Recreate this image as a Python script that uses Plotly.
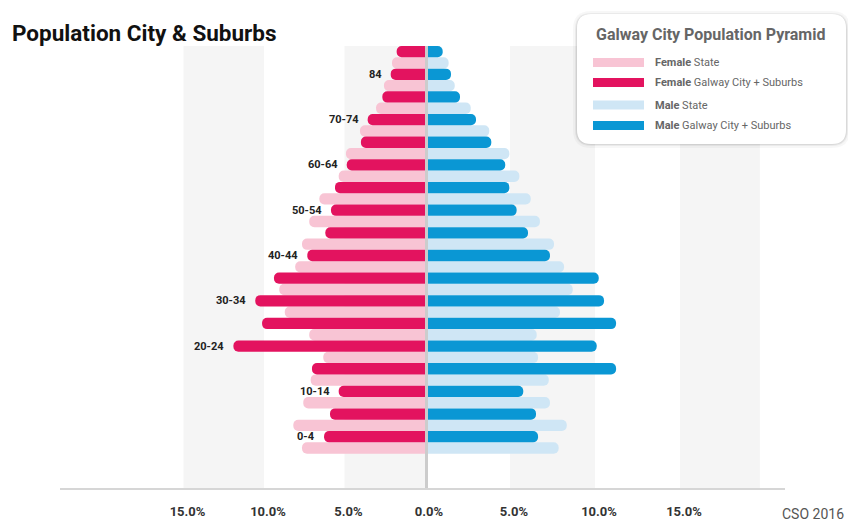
import plotly.graph_objects as go

# ---------------- data (percent of population) ----------------
age_groups = ["0-4", "5-9", "10-14", "15-19", "20-24", "25-29", "30-34", "35-39",
              "40-44", "45-49", "50-54", "55-59", "60-64", "65-69", "70-74",
              "75-79", "80-84", "85+"]
age_labels_shown = ["0-4", "", "10-14", "", "20-24", "", "30-34", "", "40-44", "",
                    "50-54", "", "60-64", "", "70-74", "", "84", ""]

female_galway = [6.27, 5.90, 5.36, 7.02, 11.90, 10.12, 10.54, 9.38, 7.31, 6.19,
                 5.84, 5.59, 4.86, 3.98, 3.56, 2.65, 2.13, 1.76]
female_state = [7.64, 8.18, 7.56, 7.10, 6.32, 7.19, 8.71, 9.05, 8.06, 7.64,
                7.19, 6.56, 5.36, 4.91, 4.04, 3.04, 2.55, 2.05]
male_galway = [6.65, 6.53, 5.78, 11.24, 10.10, 11.24, 10.53, 10.22, 7.35, 6.06,
               5.39, 4.96, 4.72, 3.90, 3.00, 2.06, 1.53, 1.04]
male_state = [7.86, 8.34, 7.35, 7.28, 6.65, 6.57, 7.94, 8.69, 8.18, 7.59,
              6.76, 6.22, 5.55, 4.96, 3.78, 2.69, 1.75, 1.39]

left_ticks = [0, 5, 10, 15]
left_ticktext = ["0.0%", "5.0%", "10.0%", "15.0%"]
right_ticks = [5, 10, 15]
right_ticktext = ["5.0%", "10.0%", "15.0%"]

legend_items = [("Female", "State"), ("Female", "Galway City + Suburbs"),
                ("Male", "State"), ("Male", "Galway City + Suburbs")]

# ---------------- styling ----------------
W, H = 848, 523
C_F_DARK = "#e3135f"
C_F_LIGHT = "#f8c4d4"
C_M_DARK = "#0a97d4"
C_M_LIGHT = "#cfe6f5"
C_BAND = "#f5f5f5"
FONT = "Roboto"

def px_x(x):
    return x / W

def px_y(y):
    return 1 - y / H

pos = list(range(len(age_groups)))

fig = go.Figure()

def add_bars(values, color, axis, dark):
    fig.add_trace(go.Bar(
        x=values, y=pos, orientation="h",
        marker=dict(color=color, cornerradius="50%", line=dict(width=0)),
        width=0.5, offset=0 if dark else -0.5,
        xaxis=axis, yaxis="y", showlegend=False, hoverinfo="skip"))

add_bars(female_state, C_F_LIGHT, "x", False)
add_bars(female_galway, C_F_DARK, "x", True)
add_bars(male_state, C_M_LIGHT, "x2", False)
add_bars(male_galway, C_M_DARK, "x2", True)

Y_MIN, Y_MAX = -2.015, 17.5
X_ZERO_PX, X_LEFT_PX, X_RIGHT_PX = 425, 60, 785
L_RANGE = (X_ZERO_PX - X_LEFT_PX) / 16.1
R_RANGE = (X_RIGHT_PX - X_ZERO_PX) / 17.0

shapes = []
# background bands
for (x0, x1, ref) in [(0, 5, "x"), (10, 15, "x"), (5, 10, "x2"), (15, 19.7, "x2")]:
    shapes.append(dict(type="rect", xref=ref, yref="y", x0=x0, x1=x1, y0=Y_MIN, y1=Y_MAX,
                       fillcolor=C_BAND, line=dict(width=0), layer="below"))
# centre line
shapes.append(dict(type="line", xref="x2", yref="y", x0=0, x1=0, y0=Y_MIN, y1=Y_MAX,
                   line=dict(color="#cccccc", width=6), layer="above"))

# legend box (rounded, with soft shadow)
def rounded_path(x0, y0, x1, y1, r):
    pts = [
        f"M {px_x(x0 + r)},{px_y(y0)}",
        f"L {px_x(x1 - r)},{px_y(y0)}",
        f"Q {px_x(x1)},{px_y(y0)} {px_x(x1)},{px_y(y0 + r)}",
        f"L {px_x(x1)},{px_y(y1 - r)}",
        f"Q {px_x(x1)},{px_y(y1)} {px_x(x1 - r)},{px_y(y1)}",
        f"L {px_x(x0 + r)},{px_y(y1)}",
        f"Q {px_x(x0)},{px_y(y1)} {px_x(x0)},{px_y(y1 - r)}",
        f"L {px_x(x0)},{px_y(y0 + r)}",
        f"Q {px_x(x0)},{px_y(y0)} {px_x(x0 + r)},{px_y(y0)} Z",
    ]
    return " ".join(pts)

for k, a in [(4, 0.03), (2, 0.05), (1, 0.07)]:
    shapes.append(dict(type="path", xref="paper", yref="paper",
                       path=rounded_path(577 - k, 14 - k + 1, 846 + k, 144 + k, 14 + k),
                       fillcolor=f"rgba(0,0,0,{a})", line=dict(width=0), layer="above"))
shapes.append(dict(type="path", xref="paper", yref="paper",
                   path=rounded_path(577, 14, 846, 144, 14),
                   fillcolor="white", line=dict(width=0), layer="above"))

legend_colors = [C_F_LIGHT, C_F_DARK, C_M_LIGHT, C_M_DARK]
legend_rows = [62.5, 82.5, 105, 125.5]
for col, yc in zip(legend_colors, legend_rows):
    shapes.append(dict(type="rect", xref="paper", yref="paper",
                       x0=px_x(593), x1=px_x(644), y0=px_y(yc + 4.5), y1=px_y(yc - 4.5),
                       fillcolor=col, line=dict(width=0), layer="above"))

annotations = []
# age labels next to the dark female bars
for i, lab in enumerate(age_labels_shown):
    if lab:
        annotations.append(dict(x=female_galway[i], y=pos[i] + 0.25, xref="x", yref="y",
                                text=f"<b>{lab}</b>", showarrow=False, xanchor="right",
                                yanchor="middle", xshift=-7,
                                font=dict(family=FONT, size=11, color="#222222")))
# title
annotations.append(dict(x=px_x(10), y=px_y(33), xref="paper", yref="paper",
                        text="<b>Population City &amp; Suburbs</b>", showarrow=False,
                        xanchor="left", yanchor="middle",
                        font=dict(family=FONT, size=22.5, color="#111111")))
# source
annotations.append(dict(x=px_x(846), y=px_y(514), xref="paper", yref="paper",
                        text="CSO 2016", showarrow=False, xanchor="right", yanchor="middle",
                        font=dict(family=FONT, size=14, color="#555555")))
# legend title and entries
annotations.append(dict(x=px_x(594), y=px_y(35), xref="paper", yref="paper",
                        text="<b>Galway City Population Pyramid</b>", showarrow=False,
                        xanchor="left", yanchor="middle",
                        font=dict(family=FONT, size=16, color="#666666")))
for (sex, src), yc in zip(legend_items, legend_rows):
    annotations.append(dict(x=px_x(653), y=px_y(yc), xref="paper", yref="paper",
                            text=f"<b>{sex}</b> {src}", showarrow=False,
                            xanchor="left", yanchor="middle",
                            font=dict(family=FONT, size=11, color="#666666")))

axis_common = dict(showgrid=False, zeroline=False, showline=True, linecolor="#d6d6d6",
                   linewidth=2, ticks="", fixedrange=True, automargin=False,
                   tickfont=dict(family=FONT, size=13, color="#333333"),
                   ticklabelstandoff=10)

fig.update_layout(
    template="none",
    width=W, height=H, autosize=False,
    margin=dict(l=0, r=0, t=0, b=0, pad=0, autoexpand=False),
    paper_bgcolor="white", plot_bgcolor="rgba(0,0,0,0)",
    barmode="overlay",
    showlegend=False,
    xaxis=dict(domain=[px_x(X_LEFT_PX), px_x(X_ZERO_PX)], range=[L_RANGE, 0],
               tickvals=left_ticks, ticktext=[f"<b>{t}</b>" for t in left_ticktext],
               anchor="y", ticklabelshift=-4, **axis_common),
    xaxis2=dict(domain=[px_x(X_ZERO_PX), px_x(X_RIGHT_PX)], range=[0, R_RANGE],
                tickvals=right_ticks, ticktext=[f"<b>{t}</b>" for t in right_ticktext],
                anchor="y", ticklabelshift=4, **axis_common),
    yaxis=dict(domain=[px_y(488), px_y(46)], range=[Y_MIN, Y_MAX], visible=False,
               fixedrange=True, automargin=False),
    shapes=shapes,
    annotations=annotations,
)

fig.write_html("out.html",
               config={"responsive": False, "displayModeBar": False},
               post_script="document.body.style.margin='0';document.body.style.overflow='hidden';")
